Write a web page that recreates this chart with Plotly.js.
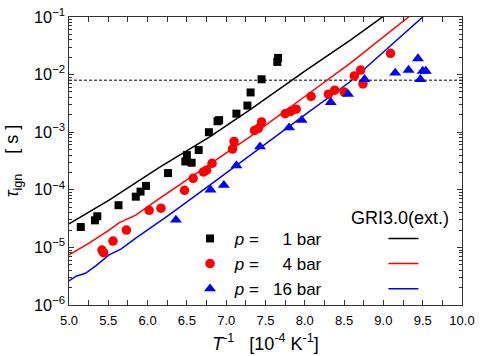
<!DOCTYPE html>
<html>
<head>
<meta charset="utf-8">
<script src="https://cdn.plot.ly/plotly-3.0.1.min.js"></script>
<style>html,body{margin:0;padding:0;background:#fff;}#chart{width:481px;height:356px;}</style>
</head>
<body>
<div id="chart"></div>
<script>
// Experimental ignition delay times (x: 10^4/T in 1/K, y: seconds)
const p1X = [5.15, 5.33, 5.36, 5.63, 5.85, 5.91, 5.98, 6.26, 6.48, 6.50, 6.56, 6.65, 6.78, 6.89, 6.91, 7.13, 7.27, 7.31, 7.45, 7.65, 7.66];
const p1Y = [2.26e-5, 2.95e-5, 3.47e-5, 5.4e-5, 7.6e-5, 9.3e-5, 1.17e-4, 1.95e-4, 3.1e-4, 4.0e-4, 2.95e-4, 4.9e-4, 1.0e-3, 1.55e-3, 1.62e-3, 2.1e-3, 2.9e-3, 4.9e-3, 8.3e-3, 1.66e-2, 1.95e-2];

const p4X = [5.42, 5.44, 5.56, 5.73, 6.02, 6.17, 6.47, 6.58, 6.71, 6.75, 6.82, 7.08, 7.10, 7.36, 7.41, 7.45, 7.75, 7.82, 7.89, 8.08, 8.30, 8.38, 8.50, 8.63, 8.71, 8.74, 9.09];
const p4Y = [9.0e-6, 8.1e-6, 1.29e-5, 2.0e-5, 4.4e-5, 4.8e-5, 9.8e-5, 1.58e-4, 2.04e-4, 2.19e-4, 2.88e-4, 5.1e-4, 6.9e-4, 1.07e-3, 1.17e-3, 1.51e-3, 2.09e-3, 2.29e-3, 2.51e-3, 4.17e-3, 4.57e-3, 5.37e-3, 5.0e-3, 9.5e-3, 1.2e-2, 6.9e-3, 2.34e-2];

const p16X = [6.36, 6.80, 6.97, 7.13, 7.43, 7.80, 7.96, 8.33, 8.55, 8.76, 9.15, 9.32, 9.44, 9.47, 9.50, 9.54];
const p16Y = [3.0e-5, 1.0e-4, 1.2e-4, 2.63e-4, 5.6e-4, 1.2e-3, 1.62e-3, 3.3e-3, 4.57e-3, 8.3e-3, 1.07e-2, 1.2e-2, 1.9e-2, 8.3e-3, 1.15e-2, 1.15e-2];

// GRI3.0 (ext.) simulations
const gri1X = [5.00, 5.25, 5.51, 6.16, 6.78, 7.30, 8.00, 8.58, 9.00, 9.05];
const gri1Y = [2.57e-5, 4.07e-5, 6.61e-5, 2.51e-4, 8.13e-4, 2.45e-3, 1.15e-2, 3.98e-2, 1.02e-1, 1.15e-1];

const gri4X = [5.00, 5.13, 5.25, 5.51, 5.64, 5.85, 6.12, 6.70, 7.30, 8.00, 8.58, 9.32, 9.40];
const gri4Y = [7.41e-6, 9.33e-6, 1.17e-5, 2.0e-5, 2.69e-5, 3.63e-5, 6.61e-5, 2.29e-4, 8.32e-4, 4.17e-3, 1.58e-2, 1.0e-1, 1.23e-1];

const gri16X = [5.00, 5.09, 5.21, 5.34, 5.51, 5.66, 5.85, 6.27, 6.80, 7.39, 8.00, 8.58, 8.96, 9.50, 9.55];
const gri16Y = [2.63e-6, 3.16e-6, 3.55e-6, 4.79e-6, 7.41e-6, 9.33e-6, 1.45e-5, 3.63e-5, 1.23e-4, 4.9e-4, 2.0e-3, 7.59e-3, 2.19e-2, 1.0e-1, 1.15e-1];

const refLineX = [5.0, 10.0];
const refLineY = [0.008, 0.008];

const legendNames = ["\u00a0<i>p</i> =\u00a0\u00a0\u00a0\u00a0 1 bar", "\u00a0<i>p</i> =\u00a0\u00a0\u00a0\u00a0 4 bar", "\u00a0<i>p</i> =\u00a0\u00a0 16 bar"];
const modelName = "GRI3.0(ext.)";

const FONT = "Arial, 'Liberation Sans', sans-serif";

const traces = [
  {x: refLineX, y: refLineY, mode: 'lines', line: {color: '#000', width: 1, dash: '3px,2px'}, showlegend: false, hoverinfo: 'skip'},
  {x: gri1X, y: gri1Y, mode: 'lines', line: {color: '#000', width: 1.5}, name: ' ', legend: 'legend2'},
  {x: gri4X, y: gri4Y, mode: 'lines', line: {color: '#ff0000', width: 1.5}, name: ' ', legend: 'legend2'},
  {x: gri16X, y: gri16Y, mode: 'lines', line: {color: '#0000ff', width: 1.5}, name: ' ', legend: 'legend2'},
  {x: p1X, y: p1Y, mode: 'markers', marker: {symbol: 'square', size: 8, color: '#000'}, name: legendNames[0]},
  {x: p4X, y: p4Y, mode: 'markers', marker: {symbol: 'circle', size: 9.5, color: '#ff0000'}, name: legendNames[1]},
  {x: p16X, y: p16Y, mode: 'markers', marker: {symbol: 'triangle-up', size: 10.5, color: '#0000ff'}, name: legendNames[2]}
];

const layout = {
  width: 481, height: 356,
  margin: {l: 69, r: 19, t: 17, b: 51},
  paper_bgcolor: '#fff', plot_bgcolor: '#fff',
  font: {family: FONT, color: '#000', size: 13},
  showlegend: true,
  legend: {x: 0.308, y: 0.292, xanchor: 'left', yanchor: 'top', bgcolor: 'rgba(0,0,0,0)', font: {size: 17, family: FONT}, tracegroupgap: 0},
  legend2: {x: 0.80, y: 0.292, xanchor: 'left', yanchor: 'top', bgcolor: 'rgba(0,0,0,0)', font: {size: 17, family: FONT}},
  annotations: [
    {text: modelName, xref: 'paper', yref: 'paper', x: 0.842, y: 0.302, xanchor: 'center', yanchor: 'middle', showarrow: false, font: {size: 18, family: FONT}}
  ],
  xaxis: {
    range: [5, 10], dtick: 0.5, tick0: 5, tickformat: '.1f',
    ticks: 'inside', ticklen: 5, tickwidth: 1, tickcolor: '#333',
    minor: {dtick: 0.25, ticks: 'inside', ticklen: 5, tickcolor: '#333'},
    showline: true, linecolor: '#333', linewidth: 1.3, mirror: 'ticks',
    showgrid: false, zeroline: false, ticklabelstandoff: 3,
    tickfont: {size: 13, family: FONT},
    title: {text: '<i>T</i><sup>-1</sup>\u00a0\u00a0\u00a0[10<sup>-4</sup> K<sup>-1</sup>]', font: {size: 18, family: FONT}, standoff: 10}
  },
  yaxis: {
    type: 'log', range: [-6, -1], dtick: 1, exponentformat: 'power',
    ticks: 'inside', ticklen: 5, tickwidth: 1, tickcolor: '#333',
    minor: {dtick: 'D1', ticks: 'inside', ticklen: 3, tickcolor: '#333'},
    showline: true, linecolor: '#333', linewidth: 1.3, mirror: 'ticks',
    showgrid: false, zeroline: false,
    tickfont: {size: 13, family: FONT},
    title: {text: '<i>τ</i><sub>ign</sub>\u00a0\u00a0\u00a0\u00a0[ s ]', font: {size: 18, family: FONT}, standoff: 10}
  }
};

Plotly.newPlot('chart', traces, layout, {staticPlot: true, displayModeBar: false});
</script>
</body>
</html>
